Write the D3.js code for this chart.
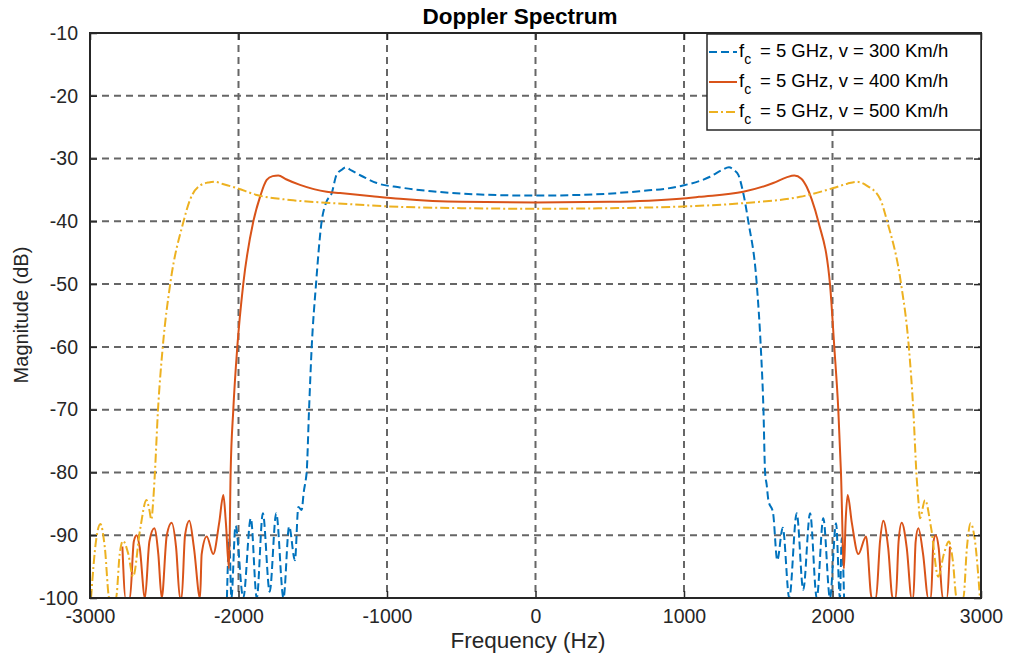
<!DOCTYPE html>
<meta charset="utf-8">
<head>
	<script type="text/javascript" src="https://cdn.jsdelivr.net/npm/d3@7"></script>
	<style>
		body { margin: 0; background: #fff; }
		text { font-family: "Liberation Sans", Arial, Helvetica, sans-serif; fill: #262626; }
	</style>
</head>
<body>
	<svg id="chart" width="1010" height="663"></svg>
</body>
<script type="text/javascript">
	// ticks
	var xTicks = [-3000, -2000, -1000, 0, 1000, 2000, 3000];
	var yTicks = [-100, -90, -80, -70, -60, -50, -40, -30, -20, -10];

	var seriesNames = ["300", "400", "500"];

	// v = 300 Km/h  [freq Hz, dB]
	var v300 = [[-2078,-100],[-2062,-90.5],[-2048,-100],[-2020,-88.5],[-1968,-100],[-1917,-87.3],[-1877,-100],
		[-1836,-86.5],[-1790,-99],[-1746,-86.5],[-1697,-100],[-1659,-88.6],[-1620,-94],[-1597,-85.5],[-1575,-86],
		[-1560,-83],[-1546,-81],[-1541,-80],[-1525,-70],[-1507,-60],[-1478,-50],[-1440,-40],[-1410,-37],
		[-1372,-35.5],[-1340,-32.6],[-1300,-31.7],[-1278,-31.4],[-1240,-31.9],[-1160,-32.9],[-1069,-33.9],
		[-912,-34.6],[-700,-35.2],[-400,-35.7],[0,-35.9],[400,-35.7],[700,-35.2],[973,-34.4],[1175,-32.9],
		[1250,-31.9],[1303,-31.4],[1340,-31.9],[1366,-32.6],[1399,-35.5],[1433,-40],[1490,-50],[1517,-60],
		[1535,-70],[1546,-80],[1557,-82],[1568,-84.4],[1600,-86.5],[1628,-94],[1665,-88.8],[1709,-100],
		[1759,-86.5],[1803,-98.7],[1849,-86.5],[1894,-100],[1938,-87.3],[1983,-100],[2024,-88.1],[2050,-100],
		[2062,-90.5],[2078,-100]];

	// v = 400 Km/h
	var v400 = [[-2782,-91.8],[-2760,-100],[-2731,-100],[-2705,-91],[-2686,-90],[-2665,-92],[-2630,-100],
		[-2600,-91],[-2567,-88.9],[-2540,-93],[-2517,-100],[-2483,-90],[-2450,-88],[-2420,-92],[-2394,-100],
		[-2383,-100],[-2360,-90],[-2331,-87.7],[-2300,-92],[-2259,-100],[-2248,-93],[-2214,-90.2],[-2170,-93],
		[-2130,-88],[-2102,-83.6],[-2085,-88],[-2064,-95.3],[-2053,-80],[-2035,-70],[-2008,-60],[-1968,-50],
		[-1900,-40],[-1855,-36.1],[-1810,-33.4],[-1770,-32.8],[-1732,-32.7],[-1680,-33.3],[-1586,-34.2],
		[-1406,-35.3],[-1316,-35.5],[-1100,-36.0],[-912,-36.4],[-500,-36.9],[0,-37.0],[500,-36.9],[973,-36.4],
		[1100,-36.1],[1399,-35.3],[1601,-33.9],[1690,-33.0],[1743,-32.7],[1790,-33.2],[1826,-34.5],[1860,-36.5],
		[1904,-40],[1983,-50],[2012,-60],[2039,-70],[2057,-80],[2077,-95.3],[2088,-88],[2102,-83.6],[2130,-88],
		[2174,-93],[2226,-90.2],[2264,-100],[2293,-100],[2320,-91],[2342,-87.7],[2375,-92],[2405,-100],
		[2426,-100],[2445,-91],[2466,-88],[2500,-92],[2533,-100],[2544,-100],[2560,-91],[2578,-88.9],
		[2610,-93],[2645,-100],[2663,-100],[2680,-91],[2695,-90],[2715,-92],[2742,-100],[2769,-100],[2791,-91.8]];

	// v = 500 Km/h
	var v500 = [[-2993,-100],[-2960,-91],[-2930,-88.2],[-2900,-92],[-2870,-100],[-2825,-100],[-2800,-93],
		[-2778,-90.9],[-2742,-93],[-2710,-96.6],[-2662,-89],[-2620,-84.4],[-2600,-86],[-2587,-87.5],
		[-2574,-84.4],[-2564,-80.5],[-2542,-70],[-2510,-60],[-2460,-50],[-2370,-40],[-2327,-36.6],[-2259,-34.3],
		[-2200,-33.8],[-2160,-33.7],[-2100,-34.1],[-2012,-34.7],[-1877,-35.8],[-1653,-36.6],[-1361,-37.1],
		[-912,-37.7],[-500,-37.9],[0,-38.0],[500,-37.9],[912,-37.7],[1399,-37.1],[1781,-36.1],[2005,-34.7],
		[2100,-34.0],[2163,-33.7],[2230,-34.3],[2320,-36.4],[2368,-40],[2462,-50],[2514,-60],[2544,-70],
		[2566,-80.5],[2578,-84.4],[2589,-87.3],[2623,-84.4],[2665,-89],[2712,-96.6],[2750,-93],[2784,-91],
		[2810,-94],[2836,-100],[2881,-100],[2905,-92],[2930,-88.1],[2960,-91],[2993,-100]];

	var seriesData = [v300, v400, v500];
	var colors = ["#0072BD", "#D95319", "#EDB120"];
	var dashes = ["8,4", null, "9,3,2,3"];

	var svg = d3.select("#chart");
	var pLeft = 90, pRight = 981, pTop = 33, pBottom = 598;

	var x = d3.scaleLinear().domain([-3000, 3000]).range([pLeft, pRight]);
	var y = d3.scaleLinear().domain([-100, -10]).range([pBottom, pTop]);
	var fmt = function(d) { return String(d); };

	svg.append("clipPath").attr("id", "plotclip").append("rect")
		.attr("x", pLeft).attr("y", pTop).attr("width", pRight - pLeft).attr("height", pBottom - pTop);

	// grid
	var grid = svg.append("g");
	grid.selectAll(".gx").data(xTicks.slice(1, -1)).enter().append("line")
		.attr("x1", d => x(d)).attr("x2", d => x(d)).attr("y1", pTop).attr("y2", pBottom)
		.attr("stroke", "#666").attr("stroke-width", 2).attr("stroke-dasharray", "7,5");
	grid.selectAll(".gy").data(yTicks.slice(1, -1)).enter().append("line")
		.attr("y1", d => y(d)).attr("y2", d => y(d)).attr("x1", pLeft).attr("x2", pRight)
		.attr("stroke", "#666").attr("stroke-width", 2).attr("stroke-dasharray", "7,5");

	// lines
	var line = d3.line().x(d => x(d[0])).y(d => y(d[1])).curve(d3.curveMonotoneX);
	var plot = svg.append("g").attr("clip-path", "url(#plotclip)");
	seriesData.forEach(function(s, i) {
		plot.append("path").attr("d", line(s)).attr("fill", "none")
			.attr("stroke", colors[i]).attr("stroke-width", 2)
			.attr("stroke-dasharray", dashes[i]);
	});

	// axes, inward ticks
	var axB = svg.append("g").attr("transform", "translate(0," + pBottom + ")")
		.call(d3.axisBottom(x).tickValues(xTicks).tickFormat(fmt).tickSizeInner(-7).tickSizeOuter(0).tickPadding(11));
	var axL = svg.append("g").attr("transform", "translate(" + pLeft + ",0)")
		.call(d3.axisLeft(y).tickValues(yTicks).tickFormat(fmt).tickSizeInner(-7).tickSizeOuter(0).tickPadding(12));
	var axT = svg.append("g").attr("transform", "translate(0," + pTop + ")")
		.call(d3.axisTop(x).tickValues(xTicks).tickSizeInner(-7).tickSizeOuter(0).tickFormat(""));
	var axR = svg.append("g").attr("transform", "translate(" + pRight + ",0)")
		.call(d3.axisRight(y).tickValues(yTicks).tickSizeInner(-7).tickSizeOuter(0).tickFormat(""));
	[axB, axL, axT, axR].forEach(function(a) {
		a.attr("font-size", null).attr("font-family", null);
		a.select(".domain").remove();
		a.selectAll("line").attr("stroke", "#262626").attr("stroke-width", 1.5);
		a.selectAll("text").style("font-size", "19.5px").style("fill", "#262626");
	});
	svg.append("rect").attr("x", pLeft).attr("y", pTop).attr("width", pRight - pLeft).attr("height", pBottom - pTop)
		.attr("fill", "none").attr("stroke", "#262626").attr("stroke-width", 2);

	// title and labels
	svg.append("text").attr("x", 520).attr("y", 24).attr("text-anchor", "middle")
		.style("font-size", "22.5px").style("font-weight", "bold").style("fill", "#000").text("Doppler Spectrum");
	svg.append("text").attr("x", 528).attr("y", 648).attr("text-anchor", "middle")
		.style("font-size", "22.5px").text("Frequency (Hz)");
	svg.append("text").attr("transform", "translate(28,315) rotate(-90)").attr("text-anchor", "middle")
		.style("font-size", "20px").text("Magnitude (dB)");

	// legend
	var lg = svg.append("g");
	lg.append("rect").attr("x", 707).attr("y", 34).attr("width", 274).attr("height", 96)
		.attr("fill", "#fff").attr("stroke", "#262626").attr("stroke-width", 1.5);
	seriesNames.forEach(function(n, i) {
		var cy = 52 + i * 30;
		lg.append("line").attr("x1", 709).attr("x2", 737).attr("y1", cy).attr("y2", cy)
			.attr("stroke", colors[i]).attr("stroke-width", 2).attr("stroke-dasharray", dashes[i]);
		var t = lg.append("text").attr("x", 739).attr("y", cy + 4.5).style("font-size", "18.5px").style("fill", "#000");
		t.append("tspan").text("f");
		t.append("tspan").attr("dy", 7).style("font-size", "14px").text("c");
		t.append("tspan").attr("x", 760).attr("dy", -7).text("= 5 GHz, v = " + n + " Km/h");
	});
</script>
